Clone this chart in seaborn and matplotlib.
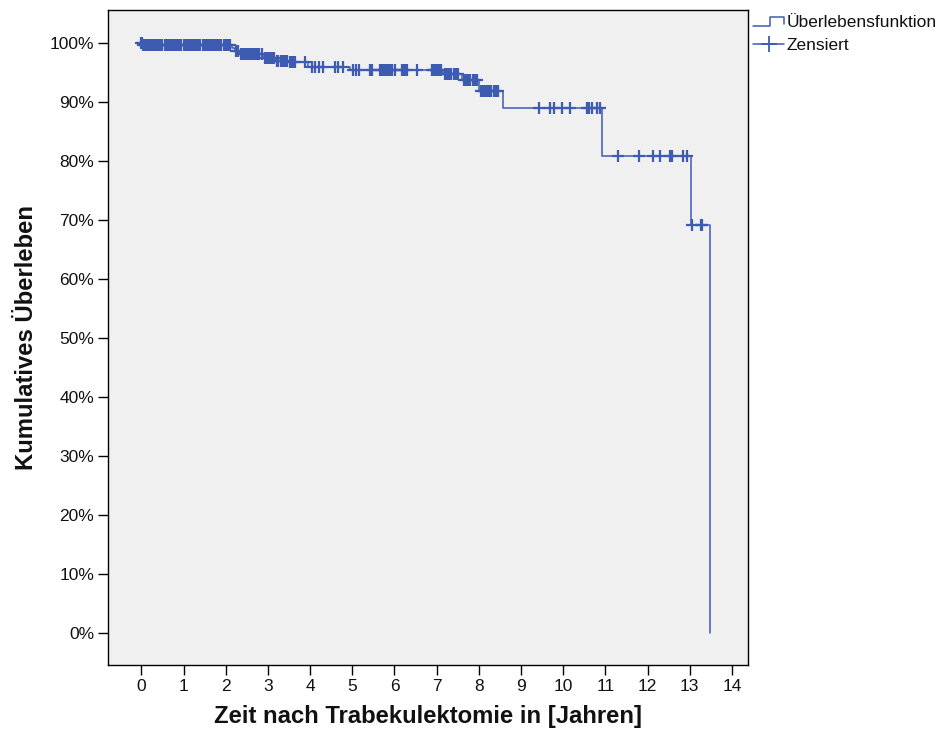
import numpy as np
import pandas as pd
import matplotlib
matplotlib.use("Agg")
import matplotlib.pyplot as plt
import seaborn as sns
from matplotlib.lines import Line2D
from matplotlib.legend_handler import HandlerBase

# ---- data ----
step_times = [0.0, 0.04, 2.15, 2.22, 2.35, 2.9, 3.2, 3.5, 3.95, 4.95, 7.15,
              7.6, 8.0, 8.58, 10.91, 13.02, 13.48]
step_surv = [100.0, 99.6, 99.2, 98.7, 98.1, 97.5, 97.0, 96.8, 96.0, 95.5, 94.8,
             93.8, 91.8, 89.0, 80.9, 69.2, 0.0]

censored_times = [
    0.0, 0.02, 0.05, 0.08, 0.1, 0.12, 0.15, 0.18, 0.2, 0.22, 0.25, 0.28, 0.3,
    0.33, 0.35, 0.4, 0.45, 0.5, 0.55, 0.6, 0.65, 0.7, 0.75, 0.8, 0.85, 0.9,
    0.95, 1.0, 1.05, 1.1, 1.15, 1.2, 1.25, 1.3, 1.35, 1.4, 1.45, 1.5, 1.55,
    1.6, 1.65, 1.7, 1.75, 1.8, 1.85, 1.9, 1.95, 2.0, 2.05, 2.1,
    2.25, 2.3, 2.37, 2.4, 2.45, 2.5, 2.55, 2.6, 2.65, 2.7, 2.75, 2.8, 2.85,
    2.92, 2.95, 3.0, 3.05, 3.1, 3.15, 3.22, 3.25, 3.3, 3.35, 3.4, 3.45, 3.52,
    3.55, 3.6, 3.65, 3.88,
    4.04, 4.12, 4.2, 4.3, 4.6, 4.67, 4.79,
    5.02, 5.1, 5.17, 5.43, 5.47, 5.66, 5.69, 5.72, 5.78, 5.81, 5.84, 5.9,
    5.93, 5.95, 6.02, 6.18, 6.21, 6.24, 6.3, 6.54, 6.88, 6.92, 6.95, 7.0,
    7.05, 7.1,
    7.2, 7.23, 7.25, 7.3, 7.35, 7.4, 7.45, 7.5,
    7.65, 7.7, 7.75, 7.8, 7.85, 7.9, 7.95,
    8.05, 8.1, 8.15, 8.2, 8.25, 8.3, 8.35, 8.4, 8.45,
    9.43, 9.69, 9.78, 9.97, 10.16, 10.57, 10.62, 10.69, 10.81, 10.88,
    11.29, 11.80, 12.13, 12.29, 12.53, 12.59, 12.83, 12.93,
    13.05, 13.27, 13.3,
]

x_ticks = list(range(0, 15))
y_ticks = list(range(0, 101, 10))
y_tick_labels = [f"{v}%" for v in y_ticks]

# ---- style ----
COLOR = "#3E5BB2"
sns.set_style("ticks")
plt.rcParams["font.family"] = ["Liberation Sans", "DejaVu Sans"]

fig = plt.figure(figsize=(9.41, 7.35), dpi=100)
ax = fig.add_axes([108 / 941, 1 - 665 / 735, (748 - 108) / 941, (665 - 10) / 735])
ax.set_facecolor("#F0F0F0")

curve = pd.DataFrame({"t": step_times, "s": step_surv})
sns.lineplot(data=curve, x="t", y="s", drawstyle="steps-post", estimator=None,
             color=COLOR, lw=1.1, ax=ax)

ct = np.array(censored_times)
idx = np.searchsorted(np.array(step_times), ct, side="right") - 1
cens = pd.DataFrame({"t": ct, "s": np.array(step_surv)[idx]})
sns.scatterplot(data=cens, x="t", y="s", marker="+", s=75, color=COLOR,
                linewidth=1.6, ax=ax, zorder=3)

ax.set_xlim(-0.79, 14.38)
ax.set_ylim(-5.43, 105.6)
ax.set_xticks(x_ticks)
ax.set_xticklabels([str(v) for v in x_ticks])
ax.set_yticks(y_ticks)
ax.set_yticklabels(y_tick_labels)
ax.tick_params(axis="both", direction="out", length=7, width=1.0,
               color="black", labelsize=12.5, labelcolor="#111111", pad=3)
for sp in ax.spines.values():
    sp.set_visible(True)
    sp.set_color("black")
    sp.set_linewidth(1.0)

ax.set_xlabel("Zeit nach Trabekulektomie in [Jahren]", fontsize=17.2,
              fontweight="bold", labelpad=8, color="#111111")
ax.set_ylabel("Kumulatives Überleben", fontsize=17.2, fontweight="bold",
              labelpad=8, color="#111111")


class StepHandler(HandlerBase):
    def create_artists(self, legend, orig_handle, xdescent, ydescent, width,
                       height, fontsize, trans):
        x0, y0 = -xdescent, -ydescent
        xm = x0 + width * 0.55
        xs = [x0, xm, xm, x0 + width, x0 + width]
        ys = [y0 + height * 0.1, y0 + height * 0.1, y0 + height * 0.85,
              y0 + height * 0.85, y0 + height * 0.3]
        ln = Line2D(xs, ys, color=COLOR, lw=1.1, transform=trans)
        return [ln]


step_handle = Line2D([], [], color=COLOR)
cens_handle = Line2D([], [], color=COLOR, marker="+", markersize=11, lw=1.1,
                     markeredgewidth=1.3)
ax.legend([step_handle, cens_handle], ["Überlebensfunktion", "Zensiert"],
          handler_map={step_handle: StepHandler()},
          loc="upper left", bbox_to_anchor=(1.0, 1.0), frameon=False,
          fontsize=12.5, handlelength=1.8, handletextpad=0.1,
          labelspacing=0.45, borderaxespad=0.0, borderpad=0.3,
          labelcolor="#111111")

fig.savefig("out.png", dpi=100)
